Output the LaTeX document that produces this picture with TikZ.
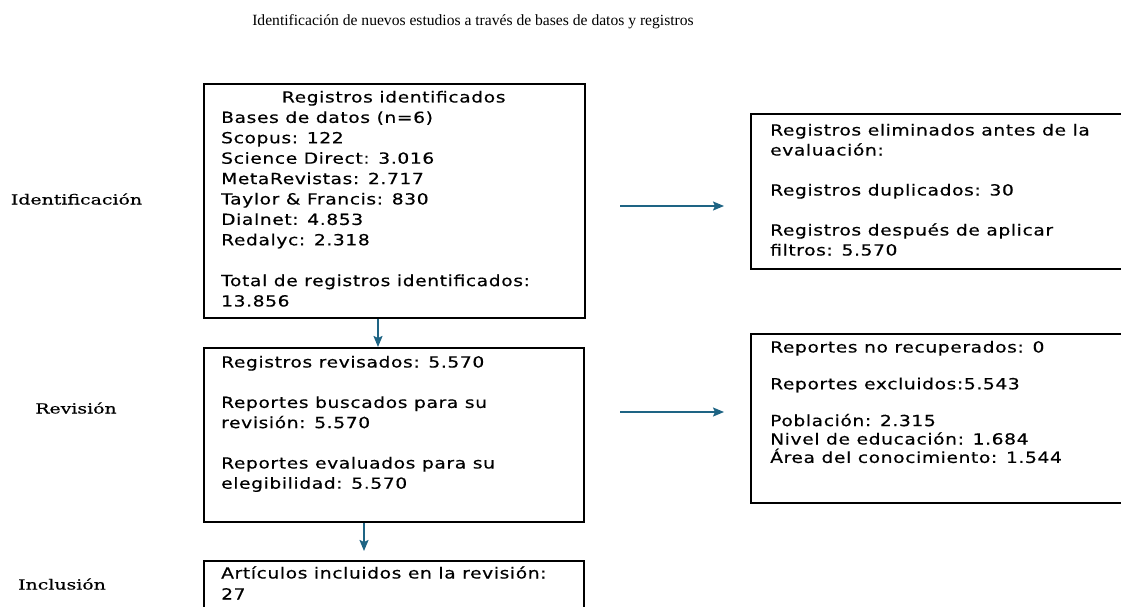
\documentclass[tikz,border=0pt]{standalone}
\usepackage{fontspec}
\newfontfamily\boxfont[FakeStretch=1.22,LetterSpace=4,FakeBold=0.4]{DejaVu Sans}
\newfontfamily\labfont[FakeStretch=1.35,FakeBold=0.5]{DejaVu Serif}
\newfontfamily\titlefont{Liberation Serif}
\usetikzlibrary{arrows.meta}
\definecolor{arrowblue}{RGB}{30,100,132}
\tikzset{
  box/.style={draw=black, line width=1.8pt, rectangle, inner sep=0pt, anchor=north west},
  txt/.style={anchor=base west, inner sep=0pt},
  lab/.style={inner sep=0pt, font={\labfont\fontsize{14}{16}\selectfont}},
  flow/.style={draw=arrowblue, line width=1.7pt, -{Stealth[length=11pt,width=9pt,inset=2pt]}}
}
\begin{document}
\begin{tikzpicture}[x=1pt,y=-1pt]
\useasboundingbox (0,0) rectangle (1121,607);
\clip (0,0) rectangle (1121,607);
% title
\node[inner sep=0pt, font={\titlefont\fontsize{15.6}{18}\selectfont}] (title) at (473,22)
  {Identificación de nuevos estudios a través de bases de datos y registros};
% stage labels
\node[lab] (lid) at (76.5,199) {Identificación};
\node[lab] (lrev) at (76,408) {Revisión};
\node[lab] (linc) at (62,584) {Inclusión};
% boxes
\node[box, minimum width=381, minimum height=234] (ident) at (203,83) {};
\node[box, minimum width=420, minimum height=155] (elim) at (750,113) {};
\node[box, minimum width=380, minimum height=174] (revis) at (203,347) {};
\node[box, minimum width=380, minimum height=80] (incl) at (203,560) {};
\node[box, minimum width=420, minimum height=169] (excl) at (750,333) {};
% texts
\node[txt] (identtxt) at (221,102.5) {\begin{minipage}[t]{345pt}\boxfont\fontsize{15.3}{20.4}\selectfont
\makebox[\linewidth][c]{Registros identificados}\\
Bases de datos (n=6)\\
Scopus: 122\\
Science Direct: 3.016\\
MetaRevistas: 2.717\\
Taylor \& Francis: 830\\
Dialnet: 4.853\\
Redalyc: 2.318\\[20.4pt]
Total de registros identificados:\\
13.856\end{minipage}};
\node[txt] (elimtxt) at (770,135.5) {\begin{minipage}[t]{345pt}\boxfont\fontsize{15.3}{20}\selectfont
Registros eliminados antes de la\\
evaluación:\\[20pt]
Registros duplicados: 30\\[20pt]
Registros después de aplicar\\
filtros: 5.570\end{minipage}};
\node[txt] (revistxt) at (221,367.5) {\begin{minipage}[t]{345pt}\boxfont\fontsize{15.3}{20.2}\selectfont
Registros revisados: 5.570\\[20.2pt]
Reportes buscados para su\\
revisión: 5.570\\[20.2pt]
Reportes evaluados para su\\
elegibilidad: 5.570\end{minipage}};
\node[txt] (excltxt) at (770,352.5) {\begin{minipage}[t]{345pt}\boxfont\fontsize{15.3}{18.4}\selectfont
Reportes no recuperados: 0\\[18.4pt]
Reportes excluidos:5.543\\[18.4pt]
Población: 2.315\\
Nivel de educación: 1.684\\
Área del conocimiento: 1.544\end{minipage}};
\node[txt] (incltxt) at (221,578.5) {\begin{minipage}[t]{345pt}\boxfont\fontsize{15.3}{21}\selectfont
Artículos incluidos en la revisión:\\
27\end{minipage}};
% connectors
\coordinate (v1) at (378,0);
\coordinate (v2) at (364,0);
\coordinate (v2e) at (364,551);
\coordinate (h1s) at (620,206);
\coordinate (h1e) at (724,206);
\coordinate (h2s) at (620,412);
\coordinate (h2e) at (724,412);
\draw[flow] (ident.south -| v1) -- (revis.north -| v1);
\draw[flow] (revis.south -| v2) -- (v2e);
\draw[flow] (h1s) -- (h1e);
\draw[flow] (h2s) -- (h2e);
\end{tikzpicture}
\end{document}
